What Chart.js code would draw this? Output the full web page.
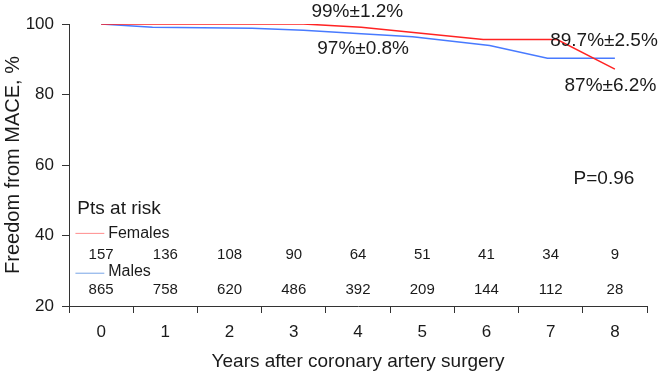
<!DOCTYPE html>
<html>
<head>
<meta charset="utf-8">
<script src="https://cdn.jsdelivr.net/npm/chart.js@4"></script>
<style>
  html, body { margin: 0; padding: 0; background: #fff; }
  #wrap { width: 664px; height: 373px; }
</style>
</head>
<body>
<div id="wrap"><canvas id="kmChart"></canvas></div>
<script>
// curves (years after surgery, freedom from MACE %)
var femaleYears = [0, 3.15, 4.05, 5.95, 7.1, 8];
var femaleFreedom = [100, 100, 99.1, 95.6, 95.6, 87.2];
var maleYears = [0, 0.8, 2.35, 3.15, 4.05, 4.85, 6.05, 6.95, 8];
var maleFreedom = [100, 99.1, 98.8, 98.2, 97.2, 96.4, 93.9, 90.3, 90.3];

// patients at risk table
var riskYears = [0, 1, 2, 3, 4, 5, 6, 7, 8];
var femalesAtRisk = [157, 136, 108, 90, 64, 51, 41, 34, 9];
var malesAtRisk = [865, 758, 620, 486, 392, 209, 144, 112, 28];

var yTicks = [20, 40, 60, 80, 100];

var FONT = "'Liberation Sans', Arial, Helvetica, sans-serif";
var INK = '#1a1a1a';
var RED = 'rgb(255, 35, 35)';
var BLUE = 'rgb(72, 122, 255)';

// text placed in value units of the chart
var notes = [
    { text: '99%\u00b11.2%', x: 3.99, y: 103.5 },
    { text: '97%\u00b10.8%', x: 4.08, y: 93.1 },
    { text: '89.7%\u00b12.5%', x: 7.83, y: 95.3 },
    { text: '87%\u00b16.2%', x: 7.93, y: 82.6 },
    { text: 'P=0.96', x: 7.83, y: 56.2 }
];

function toPoints(xs, ys) {
    return xs.map(function(x, i) { return { x: x, y: ys[i] }; });
}

var textPlugin = {
    id: 'kmText',
    afterDraw: function(chart) {
        var ctx = chart.ctx;
        var xs = chart.scales.x, ys = chart.scales.y;
        ctx.save();
        ctx.fillStyle = INK;
        ctx.textBaseline = 'middle';

        // y axis line runs down past the x axis like in the figure
        ctx.strokeStyle = '#333';
        ctx.lineWidth = 1;
        ctx.beginPath();
        ctx.moveTo(chart.chartArea.left + 0.5, chart.chartArea.bottom);
        ctx.lineTo(chart.chartArea.left + 0.5, chart.chartArea.bottom + 7);
        ctx.stroke();

        ctx.font = '19px ' + FONT;
        ctx.textAlign = 'center';
        notes.forEach(function(n) {
            ctx.fillText(n.text, xs.getPixelForValue(n.x), ys.getPixelForValue(n.y));
        });

        // at risk table
        ctx.textAlign = 'left';
        ctx.fillText('Pts at risk', xs.getPixelForValue(-0.37), ys.getPixelForValue(47.6));
        ctx.font = '16px ' + FONT;
        ctx.fillText('Females', xs.getPixelForValue(0.11), ys.getPixelForValue(40.6));
        ctx.fillText('Males', xs.getPixelForValue(0.11), ys.getPixelForValue(29.9));

        ctx.lineWidth = 1;
        ctx.strokeStyle = 'rgb(255, 140, 140)';
        ctx.beginPath();
        ctx.moveTo(xs.getPixelForValue(-0.4), ys.getPixelForValue(40.6));
        ctx.lineTo(xs.getPixelForValue(0.05), ys.getPixelForValue(40.6));
        ctx.stroke();
        ctx.strokeStyle = 'rgb(120, 165, 230)';
        ctx.beginPath();
        ctx.moveTo(xs.getPixelForValue(-0.4), ys.getPixelForValue(29.3));
        ctx.lineTo(xs.getPixelForValue(0.05), ys.getPixelForValue(29.3));
        ctx.stroke();

        ctx.font = '15px ' + FONT;
        ctx.textAlign = 'center';
        riskYears.forEach(function(yr, i) {
            var px = xs.getPixelForValue(yr);
            ctx.fillText(String(femalesAtRisk[i]), px, ys.getPixelForValue(34.5));
            ctx.fillText(String(malesAtRisk[i]), px, ys.getPixelForValue(24.6));
        });
        ctx.restore();
    }
};

var ctx = document.getElementById('kmChart').getContext('2d');
new Chart(ctx, {
    type: 'line',
    data: {
        datasets: [{
            label: 'Females',
            data: toPoints(femaleYears, femaleFreedom),
            borderColor: RED,
            borderWidth: 1.5,
            pointRadius: 0,
            tension: 0,
            fill: false
        }, {
            label: 'Males',
            data: toPoints(maleYears, maleFreedom),
            borderColor: BLUE,
            borderWidth: 1.5,
            pointRadius: 0,
            tension: 0,
            fill: false
        }]
    },
    options: {
        responsive: true,
        maintainAspectRatio: false,
        animation: false,
        layout: { padding: { left: 0, right: 17, top: 24, bottom: 0 } },
        plugins: {
            legend: { display: false },
            tooltip: { enabled: false }
        },
        scales: {
            x: {
                type: 'linear',
                min: -0.5,
                max: 8.5,
                afterBuildTicks: function(scale) {
                    var t = [];
                    for (var v = -0.5; v <= 8.5; v += 0.5) t.push({ value: v });
                    scale.ticks = t;
                },
                afterFit: function(scale) { scale.height = 67; },
                border: { display: true, color: '#333', width: 1 },
                grid: {
                    drawOnChartArea: false,
                    drawTicks: true,
                    tickLength: 7,
                    tickWidth: 1,
                    tickColor: function(c) {
                        return Number.isInteger(c.tick.value) ? 'rgba(0,0,0,0)' : '#333';
                    }
                },
                ticks: {
                    autoSkip: false,
                    maxRotation: 0,
                    padding: 9,
                    color: INK,
                    font: { family: FONT, size: 17 },
                    callback: function(v) { return Number.isInteger(v) ? String(v) : ''; }
                },
                title: {
                    display: true,
                    text: 'Years after coronary artery surgery',
                    color: INK,
                    font: { family: FONT, size: 19 },
                    padding: { top: 0, bottom: 0 }
                }
            },
            y: {
                min: 20,
                max: 100,
                afterBuildTicks: function(scale) {
                    scale.ticks = yTicks.map(function(v) { return { value: v }; });
                },
                afterFit: function(scale) { scale.width = 69; },
                border: { display: true, color: '#333', width: 1 },
                grid: {
                    drawOnChartArea: false,
                    drawTicks: true,
                    tickLength: 7,
                    tickColor: '#333'
                },
                ticks: {
                    padding: 8,
                    color: INK,
                    font: { family: FONT, size: 17 }
                },
                title: {
                    display: true,
                    text: 'Freedom from MACE, %',
                    color: INK,
                    font: { family: FONT, size: 20 },
                    padding: { top: 1, bottom: 1 }
                }
            }
        }
    },
    plugins: [textPlugin]
});
</script>
</body>
</html>
